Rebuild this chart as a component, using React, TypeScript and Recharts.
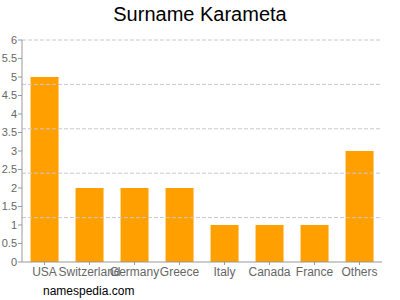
import { BarChart, Bar, XAxis, YAxis, ReferenceLine } from "recharts";

const countries = ["USA", "Switzerland", "Germany", "Greece", "Italy", "Canada", "France", "Others"];
const counts = [5, 2, 2, 2, 1, 1, 1, 3];
const yTicks = [0, 0.5, 1, 1.5, 2, 2.5, 3, 3.5, 4, 4.5, 5, 5.5, 6];
const gridValues = [1.2, 2.4, 3.6, 4.8, 6];

const data = countries.map((name, i) => ({ name, value: counts[i] }));

const FONT = "'Liberation Sans', Arial, sans-serif";

export default function App() {
  return (
    <div style={{ position: "fixed", left: 0, top: 0, width: 400, height: 300, background: "#fff", fontFamily: FONT }}>
      <div
        style={{
          position: "absolute",
          top: 3,
          left: 0,
          width: 400,
          textAlign: "center",
          fontSize: 20,
          color: "#000",
        }}
      >
        Surname Karameta
      </div>
      <BarChart
        width={400}
        height={300}
        data={data}
        margin={{ top: 40, right: 18, bottom: 8, left: 0 }}
        barCategoryGap="19%"
      >
        {gridValues.map((v) => (
          <ReferenceLine key={v} y={v} stroke="#c8c8c8" strokeDasharray="4 2" />
        ))}
        <XAxis
          dataKey="name"
          height={30}
          interval={0}
          tickSize={3}
          tick={{ fontSize: 12, fill: "#666", fontFamily: FONT }}
          stroke="#999"
        />
        <YAxis
          width={22}
          domain={[0, 6]}
          ticks={yTicks}
          interval={0}
          tickSize={4}
          tickMargin={1}
          tick={{ fontSize: 11, fill: "#666", fontFamily: FONT }}
          stroke="#999"
        />
        <Bar dataKey="value" fill="#ffa000" isAnimationActive={false} />
      </BarChart>
      <div
        style={{
          position: "absolute",
          top: 284,
          left: 43,
          fontSize: 12,
          color: "#000",
        }}
      >
        namespedia.com
      </div>
    </div>
  );
}
